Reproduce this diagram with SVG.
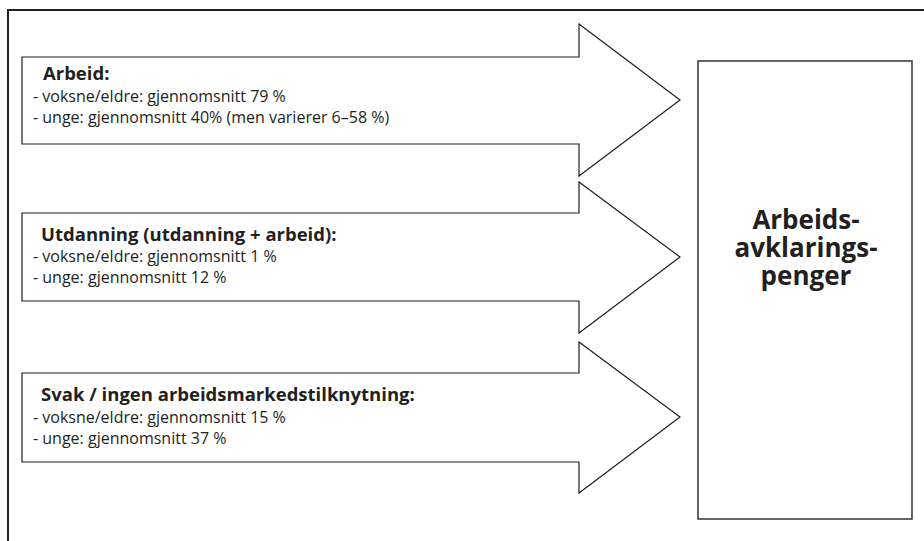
<svg xmlns="http://www.w3.org/2000/svg" width="924" height="541" viewBox="0 0 924 541">
<style>
.frame{fill:none;stroke:#231f20;stroke-width:2}
.arrow{fill:#fff;stroke:#231f20;stroke-width:1.2;stroke-linejoin:miter}
.box{fill:#fff;stroke:#333;stroke-width:1.5}
.h{font-family:"Open Sans","Noto Sans",sans-serif;font-weight:bold;font-size:18.5px;fill:#231f20}
.t{font-family:"Open Sans","Noto Sans",sans-serif;font-size:16px;fill:#231f20}
.big{font-family:"Open Sans","Noto Sans",sans-serif;font-weight:bold;font-size:26px;fill:#231f20;text-anchor:middle}
</style>
<rect width="924" height="541" fill="#fff"/>
<path class="frame" d="M8,541 V10 H930"/>
<g id="connectors">
<g id="arrow-arbeid">
<path class="arrow" d="M22,57 H579 V24 L680,100 L579,176 V144 H22 Z"/>
<text class="h" x="43" y="80">Arbeid:</text>
<text class="t" x="33" y="102">- voksne/eldre: gjennomsnitt 79 %</text>
<text class="t" x="33" y="123">- unge: gjennomsnitt 40% (men varierer 6–58 %)</text>
</g>
<g id="arrow-utdanning">
<path class="arrow" d="M22,213 H579 V182 L680,257 L579,333 V301 H22 Z"/>
<text class="h" x="41" y="241">Utdanning (utdanning + arbeid):</text>
<text class="t" x="33" y="262">- voksne/eldre: gjennomsnitt 1 %</text>
<text class="t" x="33" y="283">- unge: gjennomsnitt 12 %</text>
</g>
<g id="arrow-svak">
<path class="arrow" d="M22,373 H579 V342 L680,417 L579,493 V462 H22 Z"/>
<text class="h" x="41" y="401">Svak / ingen arbeidsmarkedstilknytning:</text>
<text class="t" x="33" y="423">- voksne/eldre: gjennomsnitt 15 %</text>
<text class="t" x="33" y="444">- unge: gjennomsnitt 37 %</text>
</g>
</g>
<g id="node-aap">
<rect class="box" x="698" y="61" width="214" height="458"/>
<text class="big" x="806" y="229">Arbeids-</text>
<text class="big" x="806" y="257">avklarings-</text>
<text class="big" x="806" y="285">penger</text>
</g>
</svg>
